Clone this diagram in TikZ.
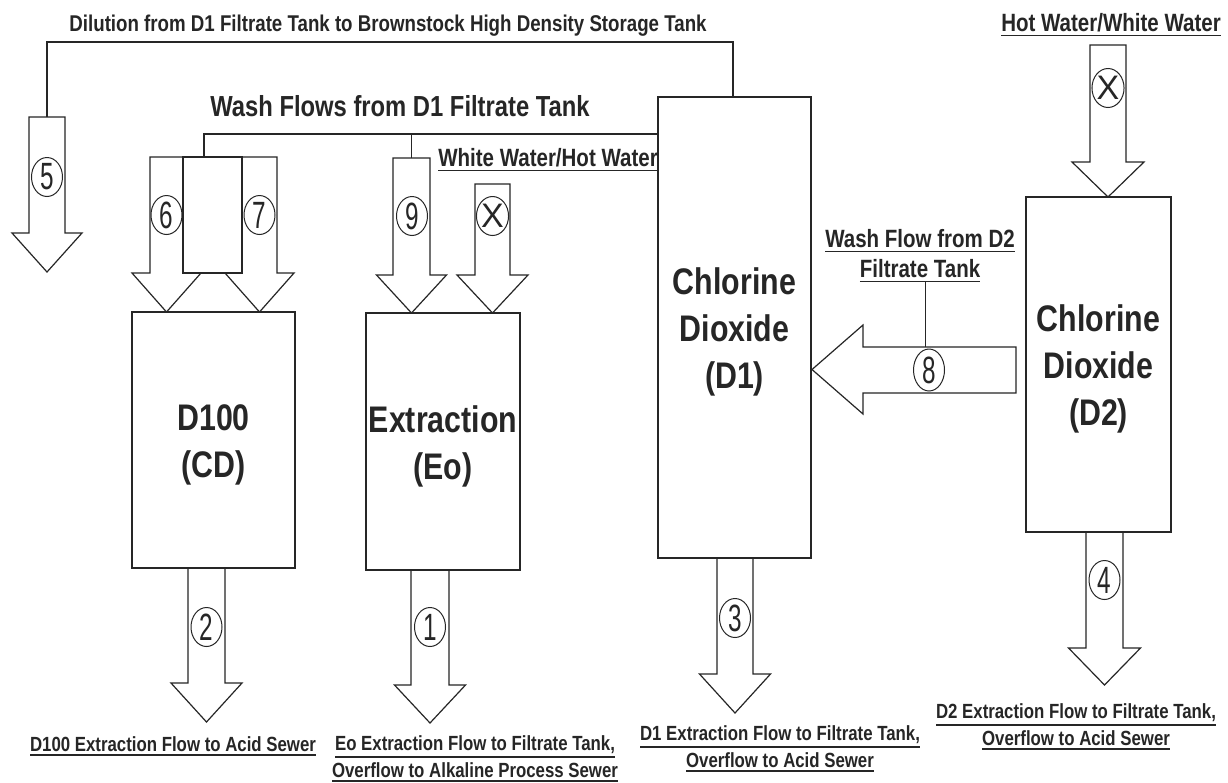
\documentclass[tikz,border=0pt]{standalone}
\usepackage{fontspec}
\setmainfont{Liberation Sans}[FakeStretch=0.82]
\newfontfamily\numfont{Liberation Sans}[FakeStretch=0.64]
\newfontfamily\xfont{Liberation Sans}
\usetikzlibrary{shapes.geometric}
\newcommand\myul[1]{\leavevmode\vtop{\hbox{#1}\kern2.5pt\hrule height 1.6pt}}
% down block arrow: name, cx, top, shaft half, head y, head half, tip y
\newcommand\dnarrow[7]{%
  \draw[flow] (#2-#4,#3) -- (#2+#4,#3) -- (#2+#4,#5) -- (#2+#6,#5) -- (#2,#7)
     -- (#2-#6,#5) -- (#2-#4,#5) -- cycle;
  \coordinate (#1-top) at (#2,#3);
  \coordinate (#1-tip) at (#2,#7);
}
\tikzset{
  flow/.style={draw=black!85, line width=1.2pt, line join=miter},
  conn/.style={draw=black!85, line width=1.2pt},
  box/.style={draw=black!85, line width=1.3pt, rectangle, inner sep=0pt},
  boxlbl/.style={inner sep=0pt, align=center, yshift=-4.5pt,
     font=\bfseries\fontsize{37}{47}\selectfont, text=black!85},
  num/.style={draw=black!85, ellipse, line width=1pt, minimum width=31pt, minimum height=39pt,
     inner sep=0pt, font=\numfont\fontsize{38}{38}\selectfont, text=black!85},
  numx/.style={num, font=\xfont\fontsize{34}{34}\selectfont},
  lbl/.style={inner sep=0pt, align=center, font=\bfseries\fontsize{20.5}{27}\selectfont, text=black!85},
  lblbig/.style={lbl, font=\bfseries\fontsize{25}{30}\selectfont},
}
\begin{document}
\begin{tikzpicture}[x=1pt,y=-1pt]
\fill[white] (0,0) rectangle (1228,782);
\useasboundingbox (0,0) rectangle (1228,782);

% tanks
\node[box, minimum width=163pt, minimum height=256pt] (d100) at (213.5,440) {};
\node[box, minimum width=154pt, minimum height=257pt] (ext) at (443,441.5) {};
\node[box, minimum width=153pt, minimum height=461pt] (d1) at (734.5,327.5) {};
\node[box, minimum width=145pt, minimum height=335pt] (d2) at (1098.5,364.5) {};
\node[boxlbl] (d100l) at (d100.center) {D100\\(CD)};
\node[boxlbl] (extl) at (ext.center) {Extraction\\(Eo)};
\node[boxlbl] (d1l) at (d1.center) {Chlorine\\Dioxide\\(D1)};
\node[boxlbl] (d2l) at (d2.center) {Chlorine\\Dioxide\\(D2)};

% inflow arrows
\dnarrow{a5}{47}{117}{18}{233}{35}{272}
\dnarrow{a6}{166.5}{157}{16.5}{273}{34.5}{312}
\dnarrow{a7}{259.5}{157}{17.5}{273}{34.5}{312}
\draw[flow] (183,157) rectangle (242,273);
\coordinate (a67-top) at (204,157);
\dnarrow{a9}{411.5}{158}{18.5}{275}{35}{313}
\dnarrow{ax1}{492.5}{184}{17.5}{275}{35.5}{313}
\dnarrow{ax2}{1108}{45}{18}{162}{36}{197}
% left arrow 8
\draw[flow] (1016,347) -- (863,347) -- (863,325) -- (812,369.5) -- (863,414) -- (863,393) -- (1016,393) -- cycle;
\coordinate (a8-top) at (925,347);

% outflow arrows
\dnarrow{a2}{206.5}{568}{18.5}{683}{35.5}{722}
\dnarrow{a1}{430}{570}{19}{685}{35.5}{723}
\dnarrow{a3}{735}{558}{18}{674}{35.5}{713}
\dnarrow{a4}{1104.5}{532}{18.5}{648}{36}{685}

% circled numbers
\node[num] (c5) at (47,177) {5};
\node[num] (c6) at (166.5,215) {6};
\node[num] (c7) at (259.5,215) {7};
\node[num] (c9) at (412,216) {9};
\node[numx] (cx1) at (492.5,216) {X};
\node[numx] (cx2) at (1108,88) {X};
\node[num, minimum height=42pt] (c8) at (929,370) {8};
\node[num] (c2) at (206.5,627) {2};
\node[num] (c1) at (430,627) {1};
\node[num] (c3) at (735,618) {3};
\node[num] (c4) at (1104.5,580) {4};

% connector lines
\coordinate (dil) at (733,42);
\draw[conn] (dil |- d1.north) -- (dil) -| (a5-top);
\coordinate (wash) at (600,134);
\draw[conn] (wash -| d1.west) -| (a67-top);
\draw[conn] (a9-top) -- (a9-top |- wash);

% labels
\node[lbl, font=\bfseries\fontsize{22.8}{27}\selectfont] (tdil) at (388,26) {Dilution from D1 Filtrate Tank to Brownstock High Density Storage Tank};
\node[lbl, font=\bfseries\fontsize{29}{30}\selectfont] (twash) at (400,106) {Wash Flows from D1 Filtrate Tank};
\node[lblbig] (tww) at (548,160) {\myul{White Water/Hot Water}};
\node[lblbig] (thw) at (1111,25) {\myul{Hot Water/White Water}};
\node[lblbig] (tw8) at (920,256) {\myul{Wash Flow from D2}\\\myul{Filtrate Tank}};
\draw[conn, line width=1pt] (tw8.south -| a8-top) -- (a8-top);
\node[lbl] (t2) at (173,746) {\myul{D100 Extraction Flow to Acid Sewer}};
\node[lbl] (t1) at (475,759) {\myul{Eo Extraction Flow to Filtrate Tank,}\\\myul{Overflow to Alkaline Process Sewer}};
\node[lbl] (t3) at (780,749) {\myul{D1 Extraction Flow to Filtrate Tank,}\\\myul{Overflow to Acid Sewer}};
\node[lbl] (t4) at (1076,727) {\myul{D2 Extraction Flow to Filtrate Tank,}\\\myul{Overflow to Acid Sewer}};
\end{tikzpicture}
\end{document}
